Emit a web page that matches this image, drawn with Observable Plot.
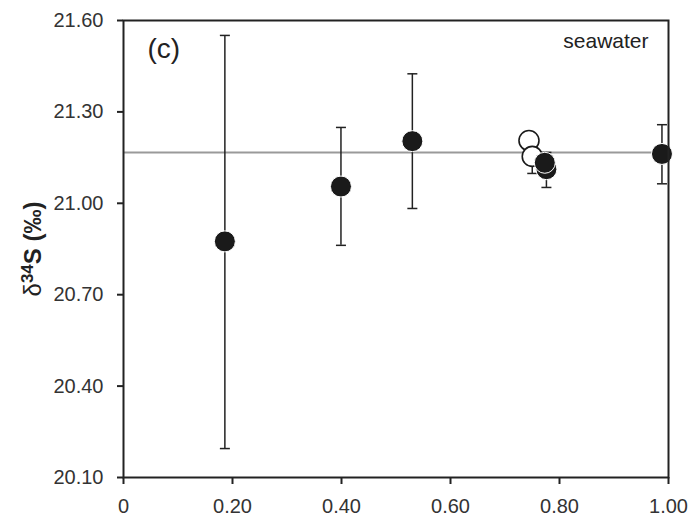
<!DOCTYPE html>
<html>
<head>
<meta charset="utf-8">
<script src="https://cdn.jsdelivr.net/npm/d3@7"></script>
<script src="https://cdn.jsdelivr.net/npm/@observablehq/plot@0.6"></script>
<style>
  html, body { margin: 0; padding: 0; background: #fff; }
  #chart { width: 692px; height: 518px; }
</style>
</head>
<body>
<div id="chart"></div>
<script>
// Filled symbols (with error bars)
const filledX  = [0.186, 0.399, 0.530, 0.776, 0.773, 0.988];
const filledY  = [20.875, 21.055, 21.204, 21.112, 21.133, 21.162];
const filledLo = [20.195, 20.862, 20.983, 21.052, 21.115, 21.064];
const filledHi = [21.551, 21.249, 21.425, 21.167, 21.150, 21.258];

// Open symbols (with error bars)
const openX  = [0.744, 0.750];
const openY  = [21.206, 21.154];
const openLo = [21.190, 21.098];
const openHi = [21.222, 21.210];

// Seawater reference line
const seawater = [21.167];

// Axis ticks
const xTicks = [0, 0.2, 0.4, 0.6, 0.8, 1.0];
const yTicks = [20.1, 20.4, 20.7, 21.0, 21.3, 21.6];

const filled = filledX.map((x, i) => ({x, y: filledY[i], lo: filledLo[i], hi: filledHi[i]}));
const open = openX.map((x, i) => ({x, y: openY[i], lo: openLo[i], hi: openHi[i]}));
const all = open.concat(filled);

const capSymbol = {
  draw(context) {
    context.moveTo(-5, 0);
    context.lineTo(5, 0);
  }
};

const font = "'Liberation Sans', Arial, Helvetica, sans-serif";

const chart = Plot.plot({
  width: 692,
  height: 518,
  marginLeft: 123,
  marginRight: 24,
  marginTop: 20,
  marginBottom: 41,
  style: {fontFamily: font, background: "#fff", color: "#333"},
  x: {domain: [0, 1]},
  y: {domain: [20.1, 21.6]},
  marks: [
    Plot.ruleY(seawater, {stroke: "#9a9a9a", strokeWidth: 2}),
    Plot.ruleX(all, {x: "x", y1: "lo", y2: "hi", stroke: "#222", strokeWidth: 1.5}),
    Plot.dot(all, {x: "x", y: "lo", symbol: capSymbol, r: 5, stroke: "#222", strokeWidth: 1.5}),
    Plot.dot(all, {x: "x", y: "hi", symbol: capSymbol, r: 5, stroke: "#222", strokeWidth: 1.5}),
    Plot.dot(open, {x: "x", y: "y", r: 10, fill: "#fff", stroke: "#1a1a1a", strokeWidth: 1.6}),
    Plot.dot(filled, {x: "x", y: "y", r: 10.5, fill: "#1a1a1a", stroke: "#fff", strokeWidth: 1}),
    Plot.frame({stroke: "#222", strokeWidth: 2}),
    Plot.axisX({ticks: xTicks, tickFormat: d => d === 0 ? "0" : d.toFixed(2), tickSize: 7, tickPadding: 14, fontSize: 20, label: null, stroke: "#222", strokeWidth: 2, fill: "#333"}),
    Plot.axisY({ticks: yTicks, tickFormat: d => d.toFixed(2), tickSize: 6, tickPadding: 14, fontSize: 20, label: null, stroke: "#222", strokeWidth: 2, fill: "#333"}),
    Plot.text(["(c)"], {frameAnchor: "top-left", dx: 24, dy: 37, lineAnchor: "bottom", textAnchor: "start", fontSize: 28, fill: "#222"}),
    Plot.text(["seawater"], {frameAnchor: "top-right", dx: -20, dy: 27, lineAnchor: "bottom", textAnchor: "end", fontSize: 21, fill: "#222"})
  ]
});

// Y-axis title with superscript
const svg = d3.select(chart);
const t = svg.append("text")
  .attr("transform", "translate(41,249) rotate(-90)")
  .attr("text-anchor", "middle")
  .attr("font-family", font)
  .attr("font-size", 24)
  .attr("fill", "#222");
t.append("tspan").attr("font-weight", "normal").text("δ");
t.append("tspan").attr("font-weight", "bold").attr("font-size", 17).attr("dy", "-0.5em").text("34");
t.append("tspan").attr("font-weight", "bold").attr("dy", "0.35em").text("S (‰)");

document.getElementById("chart").appendChild(chart);
</script>
</body>
</html>
